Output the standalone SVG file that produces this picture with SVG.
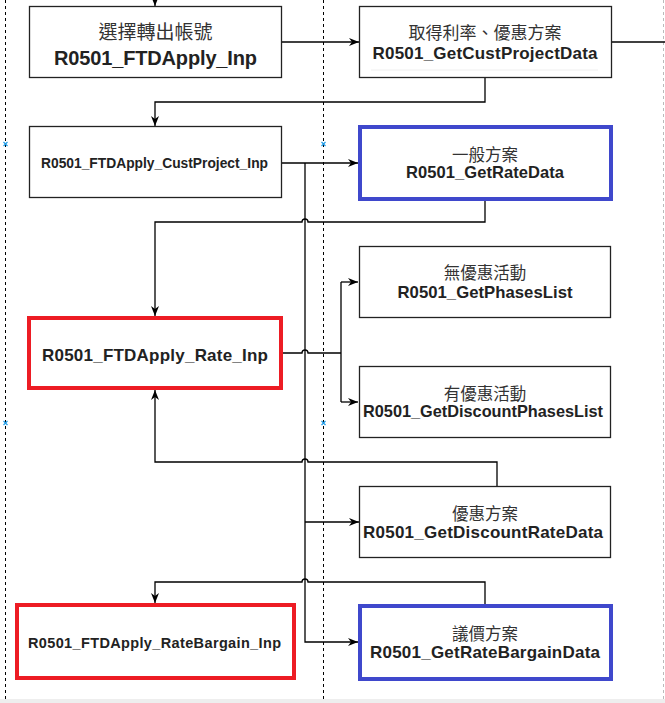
<svg xmlns="http://www.w3.org/2000/svg" width="665" height="703" viewBox="0 0 665 703">
<defs>
<marker id="arr" viewBox="0 0 10 8" refX="10" refY="4" markerWidth="10" markerHeight="8" markerUnits="userSpaceOnUse" orient="auto">
<path d="M0,0 L10,4 L0,8 L3,4 z" fill="#000"/>
</marker>
<style>
.box{fill:#fff;stroke:#222;stroke-width:1.3}
.blue{fill:#fff;stroke:#3f48cc;stroke-width:4}
.red{fill:#fff;stroke:#ed1c24;stroke-width:4}
.ln{fill:none;stroke:#000;stroke-width:1.3}
.arr{marker-end:url(#arr)}
.dash{stroke:#000;stroke-width:1;stroke-dasharray:3,3}
.t{font-family:"Liberation Sans","Noto Sans CJK TC",sans-serif;text-anchor:middle}
.cjk{fill:#333;font-weight:normal}
.b{font-weight:bold;fill:#222}
.x{stroke:#1e9be8;stroke-width:1.2;fill:none}
</style>
</defs>
<rect x="0" y="0" width="665" height="703" fill="#fff"/>
<g id="guides">
<line class="dash" x1="5.5" y1="0" x2="5.5" y2="703"/>
<line class="dash" x1="323.5" y1="0" x2="323.5" y2="703"/>
<line x1="663.5" y1="0" x2="663.5" y2="699" stroke="#bbb" stroke-width="1" stroke-dasharray="3,3"/>
<rect x="0" y="699" width="665" height="4" fill="#eeeeee"/>
<path class="x" d="M3.5,142 l4,4 M7.5,142 l-4,4 M321.5,142 l4,4 M325.5,142 l-4,4 M3.5,421 l4,4 M7.5,421 l-4,4 M321.5,421 l4,4 M325.5,421 l-4,4"/>
</g>
<g id="connectors">
<path class="ln arr" d="M155,0 V6"/>
<path class="ln arr" d="M282,42 H359"/>
<path class="ln" d="M612,42 H665"/>
<path class="ln arr" d="M485,78 V102 H155 V126"/>
<path class="ln arr" d="M282,163 H358"/>
<path class="ln arr" d="M305,163 V642 H358"/>
<path class="ln arr" d="M305,522 H359"/>
<path class="ln arr" d="M485,201 V222 H308 A3,3 0 0 0 302,222 H155 V316"/>
<path class="ln" d="M283,353 H302 A3,3 0 0 1 308,353 H341 M341,282 V402"/>
<path class="ln arr" d="M341,282 H358"/>
<path class="ln arr" d="M341,402 H358"/>
<path class="ln arr" d="M497,486 V462 H308 A3,3 0 0 0 302,462 H155 V390"/>
<path class="ln arr" d="M485,604 V582 H308 A3,3 0 0 0 302,582 H155 V603"/>
</g>
<g id="n1">
<rect class="box" x="29.5" y="6.5" width="252" height="71"/>
<text class="t cjk" x="155.5" y="39" font-size="19" fill="#222">選擇轉出帳號</text>
<text class="t b" x="155.5" y="65" font-size="20" textLength="203" lengthAdjust="spacing">R0501_FTDApply_Inp</text>
</g>
<g id="n2">
<rect class="box" x="359.5" y="6.5" width="252" height="71"/>
<line x1="371" y1="70" x2="598" y2="70" stroke="#eeeeee" stroke-width="1"/>
<text class="t cjk" x="485" y="39" font-size="17">取得利率、優惠方案</text>
<text class="t b" x="485" y="59" font-size="17" textLength="225" lengthAdjust="spacing">R0501_GetCustProjectData</text>
</g>
<g id="n3">
<rect class="box" x="29.5" y="126.5" width="252" height="71"/>
<text class="t b" x="154.5" y="168" font-size="13.8" fill="#333" textLength="227" lengthAdjust="spacing">R0501_FTDApply_CustProject_Inp</text>
</g>
<g id="n4">
<rect class="blue" x="360" y="127" width="251" height="72"/>
<text class="t cjk" x="485" y="161" font-size="16.5" fill="#555">一般方案</text>
<text class="t b" x="485" y="178" font-size="16.5" fill="#000" textLength="158" lengthAdjust="spacing">R0501_GetRateData</text>
</g>
<g id="n5">
<rect class="red" x="29" y="318" width="252" height="70"/>
<text class="t b" x="155" y="361" font-size="17" fill="#333" textLength="226" lengthAdjust="spacing">R0501_FTDApply_Rate_Inp</text>
</g>
<g id="n6">
<rect class="box" x="359.5" y="246.5" width="251" height="71"/>
<text class="t cjk" x="485" y="279" font-size="16.5">無優惠活動</text>
<text class="t b" x="485" y="298" font-size="16.7" fill="#000" textLength="175" lengthAdjust="spacing">R0501_GetPhasesList</text>
</g>
<g id="n7">
<rect class="box" x="359.5" y="366.5" width="251" height="71"/>
<text class="t cjk" x="485" y="400" font-size="16.5">有優惠活動</text>
<text class="t b" x="483" y="417" font-size="16.3" fill="#333" textLength="240" lengthAdjust="spacing">R0501_GetDiscountPhasesList</text>
</g>
<g id="n8">
<rect class="box" x="359.5" y="486.5" width="251" height="71"/>
<text class="t cjk" x="485" y="520" font-size="16.5">優惠方案</text>
<text class="t b" x="483" y="538" font-size="17" fill="#333" textLength="240" lengthAdjust="spacing">R0501_GetDiscountRateData</text>
</g>
<g id="n9">
<rect class="blue" x="360" y="606" width="251" height="73"/>
<text class="t cjk" x="485" y="640" font-size="16.5">議價方案</text>
<text class="t b" x="485" y="658" font-size="17" fill="#333" textLength="230" lengthAdjust="spacing">R0501_GetRateBargainData</text>
</g>
<g id="n10">
<rect class="red" x="17" y="605" width="277" height="73"/>
<text class="t b" x="154.5" y="648" font-size="14.5" fill="#333" textLength="253" lengthAdjust="spacing">R0501_FTDApply_RateBargain_Inp</text>
</g>
</svg>
